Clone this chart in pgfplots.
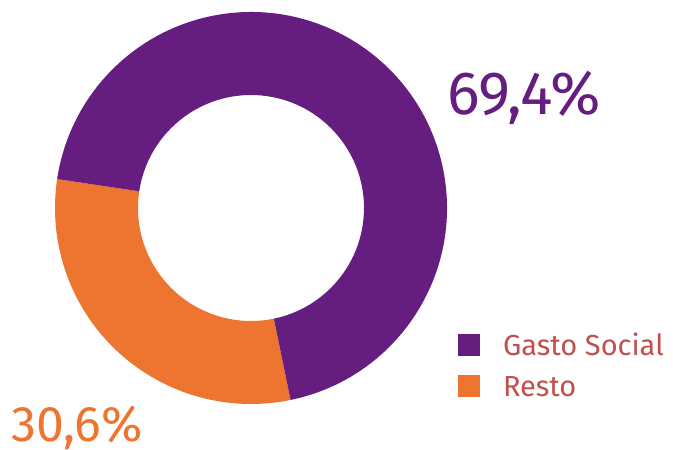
\documentclass[border=0pt]{standalone}
\usepackage{pgfplots}
\pgfplotsset{compat=1.18}
\usepackage{fontspec}
\setmainfont{Fira Sans}
\definecolor{gpurple}{HTML}{651D7F}
\definecolor{gorange}{HTML}{ED7530}
\definecolor{gtext}{HTML}{C0504D}
% data (percent)
\def\valGasto{69.4}
\def\valResto{30.6}
\pgfmathsetmacro\sA{171.5}
\pgfmathsetmacro\eA{\sA+\valResto*3.6}
\pgfmathsetmacro\eB{\eA+\valGasto*3.6}
\begin{document}
\begin{tikzpicture}
\path[use as bounding box] (0,0) rectangle (673pt,450pt);
\begin{axis}[
  hide axis, scale only axis, disabledatascaling,
  x=1pt, y=1pt, xmin=0, xmax=673, ymin=0, ymax=450,
  clip=false,
  legend image code/.code={\fill[#1, draw=none] (0pt,0pt) rectangle (22pt,22pt);},
  legend style={at={(axis cs:458,116)}, anchor=north west, draw=none, fill=none,
    inner sep=0pt, outer sep=0pt, row sep=11pt, column sep=23pt,
    font=\fontsize{29}{30}\selectfont, text=gtext,
    nodes={inner sep=0pt, outer sep=0pt, text height=22pt, text depth=8pt, anchor=base west}},
  legend cell align=left,
]
\coordinate (c) at (axis cs:251,242);
\fill[gorange] ([shift={(\sA:196pt)}]c) arc[start angle=\sA, end angle=\eA, radius=196pt]
  -- ([shift={(\eA:113pt)}]c) arc[start angle=\eA, end angle=\sA, radius=113pt] -- cycle;
\fill[gpurple] ([shift={(\eA:196pt)}]c) arc[start angle=\eA, end angle=\eB, radius=196pt]
  -- ([shift={(\eB:113pt)}]c) arc[start angle=\eB, end angle=\eA, radius=113pt] -- cycle;
\addlegendimage{fill=gpurple}
\addlegendentry{Gasto Social}
\addlegendimage{fill=gorange}
\addlegendentry{Resto}
\node[anchor=base west, inner sep=0pt, text=gpurple, font=\fontsize{61}{61}\selectfont] at (axis cs:447,335) {69,4\%};
\node[anchor=base west, inner sep=0pt, text=gorange, font=\fontsize{50}{50}\selectfont] at (axis cs:11,8) {30,6\%};
\end{axis}
\end{tikzpicture}
\end{document}
